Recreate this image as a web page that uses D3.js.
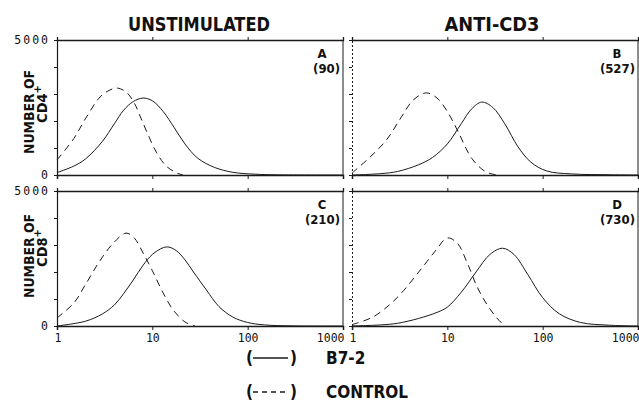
<!DOCTYPE html>
<html>
<head>
<meta charset="utf-8">
<script src="https://cdn.jsdelivr.net/npm/d3@7"></script>
<style>
  body { margin: 0; background: #fff; }
  svg text { fill: #111; }
</style>
</head>
<body>
<div id="chart"></div>
<script>
// fluorescence channel (log) vs cell count
const panelA_b72 = [[1, 90], [1.5, 330], [2, 600], [3, 1250], [4, 1900], [5, 2400], [6.3, 2720], [8, 2850], [10, 2750], [13, 2350], [17, 1750], [22, 1150], [30, 620], [45, 280], [70, 100], [120, 30], [200, 8], [1000, 0]];
const panelA_ctrl = [[1, 560], [1.5, 1350], [2, 2100], [2.83, 2890], [3.6, 3150], [4.3, 3220], [5.4, 3050], [6.5, 2650], [7.5, 2150], [9, 1500], [11, 850], [14, 330], [18, 80], [21, 0]];
const panelB_b72 = [[1, 0], [2, 50], [3, 130], [5, 380], [7, 650], [10, 1150], [14, 1900], [18, 2450], [23, 2700], [30, 2500], [40, 1900], [55, 1050], [75, 480], [110, 150], [200, 40], [500, 10], [1000, 0]];
const panelB_ctrl = [[1, 70], [1.5, 620], [2.3, 1300], [3.3, 2150], [4.4, 2780], [6, 3040], [7.8, 2850], [10, 2350], [13, 1600], [18, 620], [25, 130], [33, 0]];
const panelC_b72 = [[1, 0], [2, 180], [3, 450], [4, 780], [5, 1200], [6.3, 1700], [8, 2250], [10, 2650], [13, 2900], [15, 2920], [18, 2780], [22, 2450], [27, 2000], [37, 1330], [50, 720], [70, 330], [100, 130], [150, 40], [300, 5], [1000, 0]];
const panelC_ctrl = [[1, 300], [1.5, 850], [2, 1550], [2.8, 2400], [3.9, 3070], [5.3, 3440], [6.5, 3250], [8, 2700], [10, 2050], [13, 1220], [16.5, 600], [22, 150], [28, 0]];
const panelD_b72 = [[1, 0], [2, 40], [3, 100], [5, 280], [8, 520], [10, 700], [14, 1250], [20, 2000], [28, 2650], [38, 2880], [50, 2650], [70, 1900], [100, 1050], [150, 450], [250, 130], [500, 30], [1000, 0]];
const panelD_ctrl = [[1, 50], [1.66, 333], [2.5, 800], [3.3, 1220], [5.2, 2070], [7.6, 2810], [10, 3260], [12.7, 3070], [16.2, 2330], [20.6, 1440], [26, 800], [33, 300], [40, 0]];

const panelNames = ["A", "B", "C", "D"];
const panelCounts = ["(90)", "(527)", "(210)", "(730)"];
const columnTitles = ["UNSTIMULATED", "ANTI-CD3"];
const rowLabels = ["CD4", "CD8"];
const xTicks = [1, 10, 100, 1000];
const yTicks = [0, 1000, 2000, 3000, 4000, 5000];

const W = 639, H = 407;
const cols = [[57, 343], [352, 638]];
const rows = [[40, 175], [191, 326]];
const ink = "#1a1a1a";
const boldFont = "'DejaVu Sans Condensed', 'Liberation Sans Narrow', 'DejaVu Sans', sans-serif";
const monoFont = "'DejaVu Sans Mono', 'Liberation Mono', monospace";

const svg = d3.select("#chart").append("svg").attr("width", W).attr("height", H);

const panels = [
  { b72: panelA_b72, ctrl: panelA_ctrl, c: 0, r: 0 },
  { b72: panelB_b72, ctrl: panelB_ctrl, c: 1, r: 0 },
  { b72: panelC_b72, ctrl: panelC_ctrl, c: 0, r: 1 },
  { b72: panelD_b72, ctrl: panelD_ctrl, c: 1, r: 1 },
];

panels.forEach((p, i) => {
  const x = d3.scaleLog().domain([1, 1000]).range(cols[p.c]);
  const y = d3.scaleLinear().domain([0, 5000]).range([rows[p.r][1], rows[p.r][0]]);
  const g = svg.append("g");

  // left axis
  const yAxis = g.append("g")
    .attr("transform", "translate(" + cols[p.c][0] + ",0)")
    .call(d3.axisLeft(y).tickValues(yTicks).tickSize(3).tickPadding(4)
      .tickFormat((d) => (p.c === 0 && (d === 0 || d === 5000) ? d : "")));
  yAxis.select(".domain").attr("stroke", ink).attr("stroke-width", p.c === 0 ? 1.2 : 1)
    .attr("stroke-dasharray", p.c === 1 ? "2,2" : null);
  yAxis.selectAll(".tick line").attr("stroke", ink);
  yAxis.selectAll("text").attr("font-family", monoFont).attr("font-size", 11.5)
    .attr("letter-spacing", 2).attr("fill", ink);

  // bottom axis
  const xAxis = g.append("g")
    .attr("transform", "translate(0," + rows[p.r][1] + ")")
    .call(d3.axisBottom(x).tickValues(xTicks).tickSize(4).tickPadding(4)
      .tickFormat((d) => (p.r === 1 ? d : "")));
  xAxis.select(".domain").attr("stroke", ink).attr("stroke-width", 1.5);
  xAxis.selectAll(".tick line").attr("stroke", ink);
  xAxis.selectAll("text").attr("font-family", monoFont).attr("font-size", 11.5).attr("fill", ink)
    .attr("text-anchor", (d) => (d === 1000 ? "end" : d === 1 ? "start" : "middle"))
    .attr("dx", (d) => (d === 1000 ? 1 : d === 1 ? -3 : 0));

  // top axis
  const topAxis = g.append("g")
    .attr("transform", "translate(0," + rows[p.r][0] + ")")
    .call(d3.axisTop(x).tickValues(xTicks).tickSize(3).tickFormat(""));
  topAxis.select(".domain").attr("stroke", ink).attr("stroke-width", 1.3);
  topAxis.selectAll(".tick line").attr("stroke", ink);

  // right border
  g.append("line")
    .attr("x1", cols[p.c][1]).attr("x2", cols[p.c][1])
    .attr("y1", rows[p.r][0]).attr("y2", rows[p.r][1])
    .attr("stroke", ink).attr("stroke-width", 1);

  const line = d3.line()
    .x((d) => x(d[0]))
    .y((d) => Math.min(y(d[1]), y(0)))
    .curve(d3.curveCatmullRom.alpha(0.5));

  g.append("path").datum(p.b72)
    .attr("fill", "none").attr("stroke", ink).attr("stroke-width", 1)
    .attr("d", line);
  g.append("path").datum(p.ctrl)
    .attr("fill", "none").attr("stroke", ink).attr("stroke-width", 1)
    .attr("stroke-dasharray", "7,5")
    .attr("d", line);

  // panel letter and count
  g.append("text")
    .attr("x", cols[p.c][1] - 21).attr("y", rows[p.r][0] + 18)
    .attr("text-anchor", "middle")
    .attr("font-family", boldFont).attr("font-weight", "bold").attr("font-size", 13)
    .text(panelNames[i]);
  g.append("text")
    .attr("x", cols[p.c][1] - 3).attr("y", rows[p.r][0] + 33)
    .attr("text-anchor", "end")
    .attr("font-family", boldFont).attr("font-weight", "bold").attr("font-size", 13)
    .text(panelCounts[i]);
});

// column titles
columnTitles.forEach((t, c) => {
  svg.append("text")
    .attr("x", c === 0 ? 199 : 492).attr("y", 31)
    .attr("text-anchor", "middle")
    .attr("font-family", boldFont).attr("font-weight", "bold").attr("font-size", 20)
    .attr("textLength", c === 0 ? 142 : 95).attr("lengthAdjust", "spacingAndGlyphs")
    .text(t);
});

// row labels (rotated)
rowLabels.forEach((lab, r) => {
  const cy = r === 0 ? 112 : 256;
  const t = svg.append("g").attr("transform", "translate(0," + cy + ") rotate(-90)");
  t.append("text")
    .attr("x", 0).attr("y", 34)
    .attr("text-anchor", "middle")
    .attr("font-family", boldFont).attr("font-weight", "bold").attr("font-size", 14.5)
    .attr("textLength", 84).attr("lengthAdjust", "spacingAndGlyphs")
    .text("NUMBER OF");
  const t2 = t.append("text")
    .attr("x", 8).attr("y", 47)
    .attr("text-anchor", "middle")
    .attr("font-family", boldFont).attr("font-weight", "bold").attr("font-size", 14.5);
  t2.append("tspan").text(lab);
  t2.append("tspan").attr("dy", -6).attr("font-size", 11).text("+");
});

// legend
const legend = [
  { label: "B7-2", dash: null, y: 364 },
  { label: "CONTROL", dash: "5,4", y: 398 },
];
legend.forEach((d) => {
  const g = svg.append("g").attr("font-family", boldFont).attr("font-weight", "bold").attr("font-size", 17);
  g.append("text").attr("x", 246).attr("y", d.y).text("(");
  g.append("line")
    .attr("x1", 253).attr("x2", 288).attr("y1", d.y - 6).attr("y2", d.y - 6)
    .attr("stroke", ink).attr("stroke-width", 1.5).attr("stroke-dasharray", d.dash);
  g.append("text").attr("x", 290).attr("y", d.y).text(")");
  g.append("text").attr("x", 326).attr("y", d.y).text(d.label);
});
</script>
</body>
</html>
